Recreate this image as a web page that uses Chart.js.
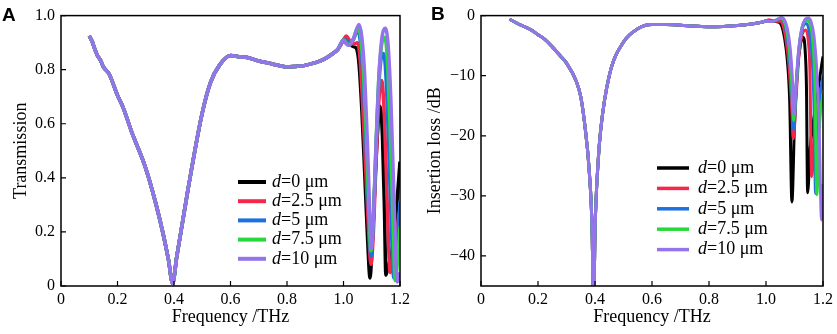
<!DOCTYPE html>
<html>
<head>
<meta charset="utf-8">
<script src="https://cdn.jsdelivr.net/npm/chart.js@4.4.0/dist/chart.umd.min.js"></script>
<style>
  body { margin: 0; background: #fff; }
  #wrap { position: relative; width: 837px; height: 334px; }
  .panel { position: absolute; top: 0; height: 334px; }
  .tag { position: absolute; font: bold 19px "Liberation Sans", Arial, sans-serif; color: #000; }
</style>
</head>
<body>
<div id="wrap">
  <div class="panel" style="left:0;width:420px"><canvas id="chartA" width="420" height="334"></canvas></div>
  <div class="panel" style="left:420px;width:417px"><canvas id="chartB" width="417" height="334"></canvas></div>
  <div class="tag" style="left:2px;top:4px">A</div>
  <div class="tag" style="left:431px;top:3px">B</div>
</div>
<script>
// series labels and colours
const thickness = ['0', '2.5', '5', '7.5', '10'];
const colors = ['#000000', '#f5274a', '#1e6fe0', '#27d83a', '#9473ec'];

// tick values
const freqTicks = [0, 0.2, 0.4, 0.6, 0.8, 1.0, 1.2];
const transTicks = [0, 0.2, 0.4, 0.6, 0.8, 1.0];
const lossTicks = [-40, -30, -20, -10, 0];

// (A) transmission, part shared by all d (0.1 - 1.0 THz)
const freqBase = [0.10,0.11,0.12,0.13,0.14,0.15,0.17,0.20,0.22,0.25,0.30,0.35,0.38,0.395,0.41,0.45,0.50,0.53,0.56,0.60,0.63,0.66,0.70,0.73,0.76,0.80,0.83,0.86,0.90,0.93,0.96,0.98,1.00];
const transBase = [0.925,0.905,0.875,0.85,0.835,0.81,0.785,0.705,0.66,0.57,0.435,0.245,0.10,0.01,0.11,0.36,0.64,0.755,0.815,0.852,0.848,0.845,0.832,0.826,0.818,0.81,0.812,0.815,0.826,0.838,0.858,0.875,0.91];

// (A) tails above 1.0 THz, one per d
const transFreq0 = [1.01,1.02,1.035,1.045,1.055,1.065,1.075,1.085,1.094,1.10,1.11,1.12,1.129,1.138,1.145,1.15,1.16,1.17,1.18,1.19,1.20];
const trans0     = [0.92,0.90,0.885,0.88,0.82,0.65,0.42,0.18,0.03,0.12,0.35,0.56,0.665,0.55,0.28,0.04,0.08,0.12,0.2,0.32,0.46];
const transFreq1 = [1.01,1.02,1.035,1.05,1.06,1.07,1.08,1.09,1.097,1.105,1.115,1.125,1.135,1.145,1.155,1.165,1.175,1.185,1.20];
const trans1     = [0.925,0.91,0.895,0.90,0.82,0.62,0.40,0.18,0.08,0.18,0.45,0.68,0.76,0.62,0.30,0.05,0.10,0.18,0.28];
const transFreq2 = [1.01,1.02,1.035,1.05,1.06,1.07,1.08,1.09,1.097,1.105,1.115,1.125,1.135,1.142,1.15,1.16,1.17,1.178,1.19,1.20];
const trans2     = [0.91,0.895,0.91,0.945,0.90,0.76,0.52,0.24,0.11,0.22,0.50,0.74,0.85,0.86,0.78,0.52,0.20,0.03,0.15,0.31];
const transFreq3 = [1.01,1.02,1.035,1.052,1.062,1.072,1.082,1.09,1.097,1.105,1.115,1.125,1.135,1.146,1.155,1.165,1.175,1.183,1.192,1.20];
const trans3     = [0.90,0.89,0.915,0.955,0.91,0.77,0.52,0.28,0.13,0.24,0.52,0.77,0.89,0.92,0.84,0.58,0.25,0.02,0.10,0.22];
const transFreq4 = [1.01,1.02,1.035,1.055,1.065,1.075,1.085,1.092,1.098,1.106,1.115,1.125,1.135,1.148,1.158,1.168,1.178,1.19,1.20];
const trans4     = [0.895,0.89,0.915,0.967,0.92,0.78,0.52,0.30,0.14,0.25,0.52,0.77,0.91,0.953,0.89,0.68,0.35,0.015,0.05];

// (B) insertion loss in dB, shared part
const lossFreqBase = [0.10,0.12,0.14,0.16,0.18,0.20,0.22,0.25,0.28,0.30,0.335,0.35,0.365,0.38,0.39,0.395,0.40,0.41,0.42,0.45,0.50,0.55,0.60,0.65,0.70,0.75,0.80,0.85,0.90,0.95,0.98,1.00];
const lossBase = [-0.6,-1.1,-1.6,-2.0,-2.5,-3.2,-3.8,-5.2,-6.8,-7.9,-11,-13.5,-18.5,-26,-36,-50,-36,-25,-19,-10,-4.4,-2.2,-1.5,-1.5,-1.6,-1.75,-1.85,-1.8,-1.65,-1.4,-1.15,-0.9];

// (B) tails above 1.0 THz
const lossFreq0 = [1.01,1.02,1.035,1.045,1.055,1.065,1.075,1.083,1.091,1.10,1.11,1.12,1.13,1.137,1.142,1.146,1.155,1.165,1.175,1.185,1.20];
const loss0     = [-0.8,-0.9,-1.0,-1.1,-1.7,-3.7,-7.5,-14,-31,-18,-9,-5,-3.6,-5.5,-12,-29.5,-22,-18,-15,-11.5,-6.8];
const lossFreq1 = [1.01,1.02,1.035,1.05,1.06,1.07,1.08,1.09,1.096,1.105,1.115,1.125,1.14,1.148,1.154,1.16,1.17,1.18,1.20];
const loss1     = [-0.7,-0.8,-0.95,-0.9,-1.7,-4,-8,-15,-20.5,-14,-7,-3.5,-2.4,-4,-9,-26.8,-20,-15,-11];
const lossFreq2 = [1.01,1.02,1.035,1.05,1.06,1.07,1.08,1.09,1.097,1.105,1.115,1.125,1.135,1.142,1.15,1.16,1.168,1.174,1.185,1.20];
const loss2     = [-0.8,-0.95,-0.8,-0.5,-0.8,-2.4,-5.7,-12.4,-19,-13,-6,-2.6,-1.4,-1.3,-2.2,-5.6,-14,-29.6,-16,-10];
const lossFreq3 = [1.01,1.02,1.035,1.052,1.062,1.072,1.082,1.09,1.097,1.105,1.115,1.125,1.135,1.146,1.155,1.165,1.172,1.178,1.188,1.20];
const loss3     = [-0.9,-1.0,-0.75,-0.4,-0.8,-2.3,-5.7,-11,-17.5,-12.4,-5.7,-2.3,-1.0,-0.8,-1.5,-4.7,-12,-29.8,-18,-13];
const lossFreq4 = [1.01,1.02,1.035,1.055,1.065,1.075,1.085,1.092,1.098,1.106,1.115,1.125,1.135,1.148,1.158,1.168,1.178,1.186,1.195,1.20];
const loss4     = [-1.0,-1.0,-0.75,-0.3,-0.7,-2.2,-5.5,-10,-16.5,-11,-5.5,-2.3,-0.8,-0.4,-1.0,-3.3,-9,-18,-34,-28];

const transTails = [[transFreq0, trans0], [transFreq1, trans1], [transFreq2, trans2], [transFreq3, trans3], [transFreq4, trans4]];
const lossTails = [[lossFreq0, loss0], [lossFreq1, loss1], [lossFreq2, loss2], [lossFreq3, loss3], [lossFreq4, loss4]];

const SERIF = '"Liberation Serif", "Times New Roman", serif';
Chart.defaults.font.family = SERIF;
Chart.defaults.color = '#000';

function toPoints(xs, ys) {
    return xs.map((x, i) => ({ x: x, y: ys[i] }));
}

function buildDatasets(baseX, baseY, tails, width) {
    return tails.map(([tx, ty], i) => ({
        label: 'd=' + thickness[i] + ' μm',
        data: toPoints(baseX, baseY).concat(toPoints(tx, ty)),
        borderColor: colors[i],
        borderWidth: width,
        pointRadius: 0,
        fill: false,
        cubicInterpolationMode: 'monotone',
        order: tails.length - 1 - i   // purple drawn on top
    }));
}

// box round the plot plus inward tick marks
const framePlugin = {
    id: 'frame',
    afterDraw(chart) {
        const { ctx, chartArea: a, scales: { x, y } } = chart;
        ctx.save();
        ctx.strokeStyle = '#000';
        ctx.lineWidth = 1.5;
        ctx.strokeRect(a.left, a.top, a.right - a.left, a.bottom - a.top);
        ctx.lineWidth = 1.2;
        ctx.beginPath();
        x.ticks.forEach(t => {
            const px = x.getPixelForValue(t.value);
            ctx.moveTo(px, a.bottom); ctx.lineTo(px, a.bottom - 5);
        });
        y.ticks.forEach(t => {
            const py = y.getPixelForValue(t.value);
            ctx.moveTo(a.left, py); ctx.lineTo(a.left + 5, py);
        });
        ctx.stroke();
        ctx.restore();
    }
};

// legend inside the plot, italic d
const legendPlugin = {
    id: 'inlegend',
    afterDraw(chart, args, opts) {
        const ctx = chart.ctx;
        ctx.save();
        ctx.textBaseline = 'middle';
        chart.data.datasets.forEach((ds, i) => {
            const y = opts.y0 + i * opts.dy;
            ctx.strokeStyle = ds.borderColor;
            ctx.lineWidth = opts.lw;
            ctx.beginPath();
            ctx.moveTo(opts.x0, y); ctx.lineTo(opts.x1, y);
            ctx.stroke();
            ctx.fillStyle = '#000';
            ctx.font = 'italic 18px ' + SERIF;
            ctx.fillText('d', opts.tx, y);
            const w = ctx.measureText('d').width;
            ctx.font = '18px ' + SERIF;
            ctx.fillText('=' + thickness[i] + ' μm', opts.tx + w, y);
        });
        ctx.restore();
    }
};

function fmt(v) {
    if (v === 0) return '0';
    if (Number.isInteger(v) && Math.abs(v) >= 10) return (v < 0 ? '\u2212' : '') + Math.abs(v);
    return v.toFixed(1);
}

function makeChart(id, datasets, yMin, yMax, yTicks, yTitle, yTitlePad, rightPad, legend) {
    const ctx = document.getElementById(id).getContext('2d');
    return new Chart(ctx, {
        type: 'line',
        data: { datasets: datasets },
        options: {
            responsive: false,
            animation: false,
            layout: { autoPadding: false, padding: { left: 0, right: rightPad, top: 11, bottom: 0 } },
            plugins: { legend: { display: false }, tooltip: { enabled: false }, inlegend: legend },
            scales: {
                x: {
                    type: 'linear', min: 0, max: 1.2,
                    grid: { display: false, drawTicks: false },
                    border: { display: false },
                    afterBuildTicks: s => { s.ticks = freqTicks.map(v => ({ value: v })); },
                    afterFit: s => { s.height = 48; },
                    ticks: { padding: 4, font: { size: 16 }, maxRotation: 0, callback: v => fmt(v) },
                    title: { display: true, text: 'Frequency /THz', font: { size: 18 }, padding: { top: 0, bottom: 6 } }
                },
                y: {
                    type: 'linear', min: yMin, max: yMax,
                    grid: { display: false, drawTicks: false },
                    border: { display: false },
                    afterBuildTicks: s => { s.ticks = yTicks.map(v => ({ value: v })); },
                    afterFit: s => { s.width = 61; },
                    ticks: { padding: 6, font: { size: 16 }, callback: v => fmt(v) },
                    title: { display: true, text: yTitle, font: { size: 18 }, padding: { top: yTitlePad, bottom: yTitlePad } }
                }
            }
        },
        plugins: [framePlugin, legendPlugin]
    });
}

makeChart('chartA', buildDatasets(freqBase, transBase, transTails, 3.5),
    0, 1, transTicks, 'Transmission', 10, 20,
    { x0: 238, x1: 266, tx: 272, y0: 182, dy: 19.2, lw: 4 });

makeChart('chartB', buildDatasets(lossFreqBase, lossBase, lossTails, 3),
    -45, 0, lossTicks, 'Insertion loss /dB', 4, 14,
    { x0: 237, x1: 269, tx: 278, y0: 168, dy: 20.4, lw: 3.5 });
</script>
</body>
</html>
